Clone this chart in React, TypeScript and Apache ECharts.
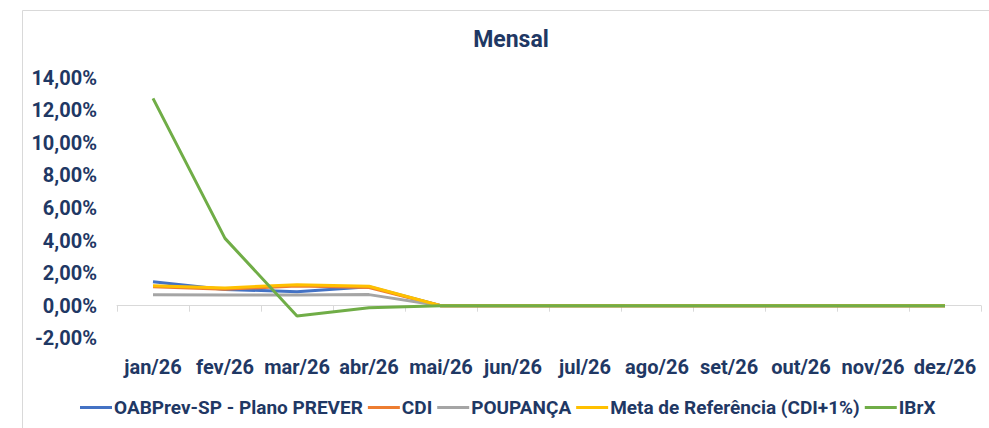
import React, { useEffect, useRef } from "react";
import * as echarts from "echarts";

const categories = ["jan/26", "fev/26", "mar/26", "abr/26", "mai/26", "jun/26", "jul/26", "ago/26", "set/26", "out/26", "nov/26", "dez/26"];
const oabprev = [1.47, 1.0, 0.86, 1.17, 0, 0, 0, 0, 0, 0, 0, 0];
const cdi = [1.16, 1.01, 1.21, 1.11, 0, 0, 0, 0, 0, 0, 0, 0];
const poupanca = [0.67, 0.65, 0.66, 0.68, 0, 0, 0, 0, 0, 0, 0, 0];
const meta = [1.23, 1.09, 1.29, 1.19, 0, 0, 0, 0, 0, 0, 0, 0];
const ibrx = [12.72, 4.13, -0.63, -0.12, 0, 0, 0, 0, 0, 0, 0, 0];
const seriesNames = ["OABPrev-SP - Plano PREVER", "CDI", "POUPANÇA", "Meta de Referência (CDI+1%)", "IBrX"];
const seriesColors = ["#4472C4", "#ED7D31", "#A5A5A5", "#FFC000", "#70AD47"];

const FONT = "Roboto, 'Noto Sans', sans-serif";
const TEXT = "#1F3864";

export default function App() {
  const ref = useRef<HTMLDivElement>(null);
  useEffect(() => {
    if (!ref.current) return;
    const chart = echarts.init(ref.current, undefined, { renderer: "svg" });
    const data = [oabprev, cdi, poupanca, meta, ibrx];
    chart.setOption({
      animation: false,
      backgroundColor: "#ffffff",
      title: {
        text: "Mensal",
        left: 511,
        top: 28,
        padding: 0,
        textAlign: "center",
        textStyle: { fontFamily: FONT, fontSize: 23, fontWeight: "bold", color: TEXT },
      },
      graphic: [
        {
          type: "rect",
          shape: { x: 22.5, y: 10.5, width: 1100, height: 600 },
          style: { fill: "none", stroke: "#D9D9D9", lineWidth: 1 },
          silent: true,
          z: -10,
        },
      ],
      legend: {
        data: seriesNames,
        top: 393,
        left: 75,
        itemWidth: 32,
        itemHeight: 3,
        itemGap: 5,
        icon: "rect",
        textStyle: { fontFamily: FONT, fontSize: 19, fontWeight: "bold", color: TEXT, padding: [0, 0, 0, -3] },
      },
      grid: { left: 117, right: 8, top: 77.5, height: 260.8, containLabel: false },
      xAxis: {
        type: "category",
        data: categories,
        boundaryGap: true,
        axisLine: { onZero: true, lineStyle: { color: "#D9D9D9", width: 1 } },
        axisTick: { show: true, length: 6, lineStyle: { color: "#D9D9D9" } },
        axisLabel: { margin: 19, fontFamily: FONT, fontSize: 20, fontWeight: "bold", color: TEXT, interval: 0 },
        splitLine: { show: false },
      },
      yAxis: {
        type: "value",
        min: -2,
        max: 14,
        interval: 2,
        axisLine: { show: false },
        axisTick: { show: false },
        splitLine: { show: false },
        axisLabel: {
          margin: 20,
          fontFamily: FONT,
          fontSize: 20,
          fontWeight: "bold",
          color: TEXT,
          formatter: (v: number) => v.toFixed(2).replace(".", ",") + "%",
        },
      },
      series: seriesNames.map((name, i) => ({
        name,
        type: "line",
        data: data[i],
        symbol: "none",
        lineStyle: { width: 3, color: seriesColors[i] },
        itemStyle: { color: seriesColors[i] },
        z: 2 + i,
      })),
    });
    return () => chart.dispose();
  }, []);
  return <div ref={ref} style={{ position: "absolute", left: 0, top: 0, width: 989, height: 428 }} />;
}
